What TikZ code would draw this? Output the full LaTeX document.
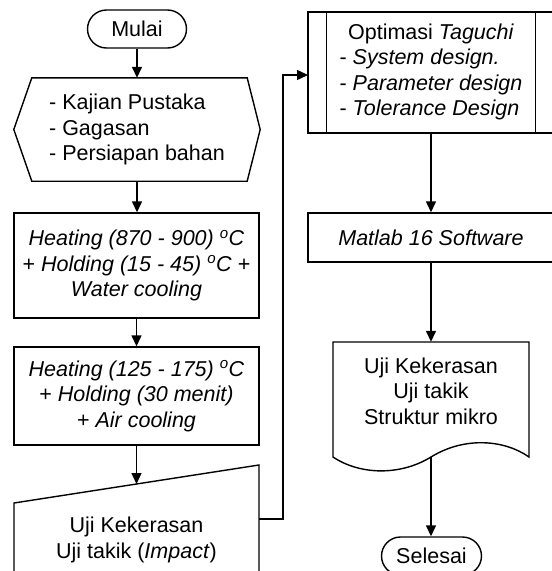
\documentclass[tikz,border=0pt]{standalone}
\usepackage{fontspec}
\setmainfont{Liberation Sans}
\usetikzlibrary{arrows.meta,shapes.misc,calc}
\begin{document}
\begin{tikzpicture}[x=1pt,y=-1pt,
  every node/.style={font=\fontsize{21.5}{25.5}\selectfont, inner sep=0pt},
  ln/.style={line width=1.4pt},
  arr/.style={ln,-{Triangle[length=11pt,width=10pt]}},
  term/.style={rounded rectangle, draw, ln, minimum width=99pt, minimum height=38pt},
  pbox/.style={rectangle, draw, ln, minimum width=245pt, align=center},
  ghost/.style={rectangle, align=center}]
\useasboundingbox (0,0) rectangle (552,571);

% left column
\node[term] (mulai) at (137,29) {Mulai};
\node[ghost, minimum width=246pt, minimum height=103pt, align=left] (prep) at (137,129.5)
  {- Kajian Pustaka\\- Gagasan\\- Persiapan bahan};
\draw[ln] (prep.west) -- ([xshift=18pt]prep.north west) -- ([xshift=-13pt]prep.north east)
  -- (prep.east) -- ([xshift=-13pt]prep.south east) -- ([xshift=18pt]prep.south west) -- cycle;

\node[pbox, minimum height=105pt] (b1) at (136.5,265.5)
  {\textit{Heating (870 - 900) \textsuperscript{o}C}\\
   + \textit{Holding (15 - 45) \textsuperscript{o}C} +\\
   \textit{Water cooling}};
\node[pbox, minimum height=98pt] (b2) at (136.5,396)
  {\textit{Heating (125 - 175) \textsuperscript{o}C}\\
   + \textit{Holding (30 menit)}\\
   + \textit{Air cooling}};

\coordinate (miTL) at (14,503);
\coordinate (miTR) at (259,465);
\coordinate (mitop) at (136.5,484);
\coordinate (miR) at (259,519);
\draw[ln] (miTL) -- (miTR) -- (259,600) -- (14,600) -- cycle;
\node[ghost] (mi) at (136.5,540) {Uji Kekerasan\\Uji takik (\textit{Impact})};

% right column
\node[rectangle, draw, ln, minimum width=246pt, minimum height=121pt] (opt) at (431,72.5)
  {\begin{tabular}{@{}l@{}}\multicolumn{1}{@{}c@{}}{Optimasi \textit{Taguchi}}\\
   - \textit{System design.}\\- \textit{Parameter design}\\- \textit{Tolerance Design}\end{tabular}};
\draw[ln] ([xshift=19pt]opt.north west) -- ([xshift=19pt]opt.south west);
\draw[ln] ([xshift=-19pt]opt.north east) -- ([xshift=-19pt]opt.south east);

\node[rectangle, draw, ln, minimum width=246pt, minimum height=49pt] (mat) at (431,237.5)
  {\textit{Matlab 16 Software}};

\node[ghost, minimum width=196pt, minimum height=98pt] (doc) at (431,391)
  {Uji Kekerasan\\Uji takik\\Struktur mikro};
\draw[ln] (333,342) -- (529,342) -- (529,457)
  .. controls (505,440) and (465,436) .. (431,457)
  .. controls (400,476) and (360,475) .. (333,457) -- cycle;
\coordinate (docbot) at (431,457);

\node[term, minimum width=100pt] (sel) at (431.5,556) {Selesai};

% connectors
\draw[arr] (mulai.south) -- (mulai.south |- prep.north);
\draw[arr] (prep.south) -- (prep.south |- b1.north);
\draw[arr] (b1.south) -- (b2.north);
\draw[arr] (b2.south) -- (mitop);
\coordinate (jog) at (283,0);
\coordinate (optin) at (308,75);
\draw[arr] (miR) -- (miR -| jog) -- (jog |- optin) -- (optin);
\draw[arr] (opt.south) -- (mat.north);
\draw[arr] (mat.south) -- (doc.north);
\draw[arr] (docbot) -- (docbot |- sel.north);
\end{tikzpicture}
\end{document}
